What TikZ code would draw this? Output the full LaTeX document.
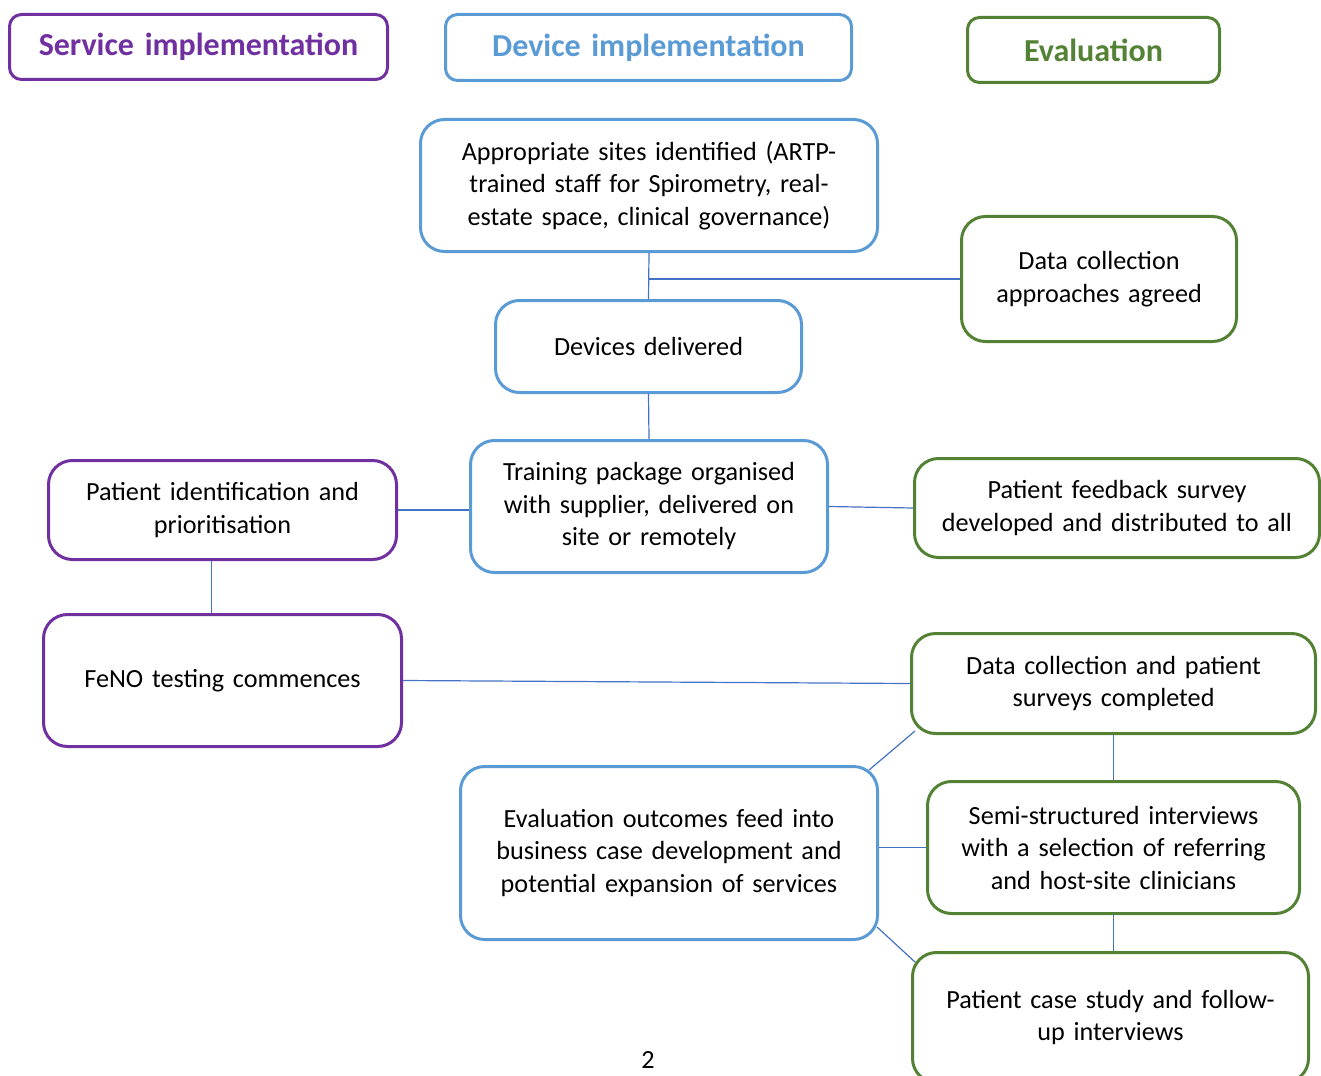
\documentclass[tikz,border=0pt]{standalone}
\usepackage{fontspec}
\setmainfont{Carlito}
\usetikzlibrary{positioning}
\definecolor{svcpurple}{RGB}{112,48,160}
\definecolor{devblue}{RGB}{91,155,213}
\definecolor{evalgreen}{RGB}{84,130,53}
\definecolor{linkblue}{RGB}{68,114,196}

\tikzset{
	head/.style={draw, line width=1.5pt, rounded corners=6pt, align=center, inner sep=0pt, font=\fontsize{16}{19}\selectfont\bfseries},
	box/.style={draw, line width=1.5pt, rounded corners=12pt, align=center, inner sep=0pt, font=\fontsize{13.1}{16.25}\selectfont},
	link/.style={linkblue, line width=0.6pt}
}

\begin{document}
\begin{tikzpicture}[x=0.5pt, y=-0.5pt]
		\useasboundingbox (0,0) rectangle (1321,1075);
		
		\node(service) [head, svcpurple, text width=189pt, minimum height=32.5pt, anchor=north west] at (8,13) {Service implementation};
		\node(device) [head, devblue, text width=203pt, minimum height=33pt, anchor=north west] at (444,13) {Device implementation};
		\node(evaluation) [head, evalgreen, text width=126pt, minimum height=32.5pt, anchor=north west] at (966,16) {Evaluation};
		
		%----------------------------------------------------------------
		\node(sites) [box, draw=devblue, text width=228.5pt, minimum height=66pt, anchor=north west] at (419,118) {Appropriate sites identified (ARTP-\\ trained staff for Spirometry, real-\\ estate space, clinical governance)};
		\node(delivered) [box, draw=devblue, text width=153pt, minimum height=46pt, anchor=north west] at (494,299) {Devices delivered};
		\node(training) [box, draw=devblue, text width=178.5pt, minimum height=66pt, anchor=north west] at (469,439) {Training package organised\\ with supplier, delivered on\\ site or remotely};
		\node(outcomes) [box, draw=devblue, text width=208.5pt, minimum height=86.5pt, anchor=north west] at (459,765) {Evaluation outcomes feed into\\ business case development and\\ potential expansion of services};
		
		%----------------------------------------------------------------
		\node(identify) [box, draw=svcpurple, text width=174pt, minimum height=49.5pt, anchor=north west] at (47,459) {Patient identification and\\ prioritisation};
		\node(feno) [box, draw=svcpurple, text width=179pt, minimum height=66pt, anchor=north west] at (42,613) {FeNO testing commences};
		
		%----------------------------------------------------------------
		\node(approaches) [box, draw=evalgreen, text width=137.5pt, minimum height=62.5pt, anchor=north west] at (960,215) {Data collection\\ approaches agreed};
		\node(feedback) [box, draw=evalgreen, text width=202.5pt, minimum height=49.5pt, anchor=north west] at (913,457) {Patient feedback survey\\ developed and distributed to all};
		\node(surveys) [box, draw=evalgreen, text width=202pt, minimum height=50pt, anchor=north west] at (910,632) {Data collection and patient\\ surveys completed};
		\node(interviews) [box, draw=evalgreen, text width=186pt, minimum height=66pt, anchor=north west] at (926,780) {Semi-structured interviews\\ with a selection of referring\\ and host-site clinicians};
		\node(casestudy) [box, draw=evalgreen, text width=198pt, minimum height=65pt, anchor=north west] at (911,951) {Patient case study and follow-\\ up interviews};
		
		\node(pagenum) [font=\fontsize{13.1}{16}\selectfont] at (648,1060) {2};
		
		%----------------------------------------------------------------
		\draw[link] (sites.south) -- (delivered.north);
		\draw[link] (approaches.west) -- (approaches.west -| sites.south);
		\draw[link] (delivered.south) -- (training.north);
		\draw[link] (identify.east) -- (training.west |- identify.east);
		\draw[link] (training.east) -- (feedback.west);
		\draw[link] ([xshift=-5.5pt]identify.south) -- ([xshift=-5.5pt]feno.north);
		\draw[link] (feno.east) -- (surveys.west);
		\draw[link] (surveys.south) -- (interviews.north);
		\draw[link] (interviews.south) -- (casestudy.north -| interviews.south);
		\draw[link] (outcomes.east |- interviews.west) -- (interviews.west);
		\draw[link] ([xshift=-5pt,yshift=-2.5pt]outcomes.north east) -- ([xshift=2.5pt,yshift=2pt]surveys.south west);
		\draw[link] ([xshift=-1pt,yshift=7pt]outcomes.south east) -- ([xshift=2pt,yshift=-5.5pt]casestudy.north west);
		
	\end{tikzpicture}
\end{document}
